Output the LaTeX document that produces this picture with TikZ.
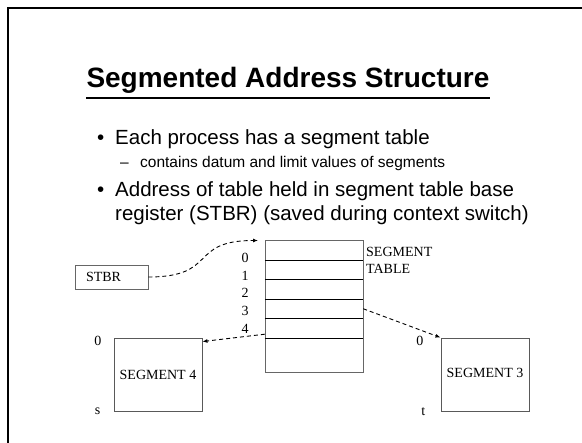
\documentclass[tikz,border=0pt]{standalone}
\usepackage{fontspec}
\setmainfont{Liberation Serif}
\newfontfamily\slidefont{Liberation Sans}
\usetikzlibrary{arrows.meta, positioning, calc}

\begin{document}
\begin{tikzpicture}[
    x=1pt, y=-1pt,
    every node/.style={inner sep=0pt},
    slidetitle/.style={anchor=base, font=\slidefont\bfseries\fontsize{28}{32}\selectfont},
    bullettext/.style={anchor=base west, font=\slidefont\fontsize{20.5}{24}\selectfont},
    subtext/.style={anchor=base west, font=\slidefont\fontsize{15.5}{19}\selectfont},
    diagtext/.style={font=\fontsize{14}{17}\selectfont},
    segbox/.style={rectangle, draw=black!65, line width=0.9pt, minimum width=88pt, minimum height=73pt, diagtext},
    tblrow/.style={rectangle, minimum width=98pt, minimum height=19.5pt},
    rowline/.style={draw=black, line width=1pt},
    dasharrow/.style={-{Latex[length=5pt,width=4pt]}, line width=0.9pt, dash pattern=on 4pt off 3pt}
]
    \useasboundingbox (0,0) rectangle (582,443);

    % slide frame
    \draw[line width=2.2pt] (8,443) -- (8,8) -- (582,8);

    % Title and bullets
    \node[slidetitle] (title) at (288,88) {Segmented Address Structure};
    \draw[line width=1.8pt] ([yshift=-10pt]title.base west) -- ([yshift=-10pt]title.base east);

    \node[bullettext] (b1) at (97,145) {\textbullet};
    \node[bullettext] (l1) at (115,145) {Each process has a segment table};
    \node[subtext] (d1) at (120,168) {\textendash};
    \node[subtext] (l2) at (140,168) {contains datum and limit values of segments};
    \node[bullettext] (b2) at (97,197) {\textbullet};
    \node[bullettext] (l3) at (115,197) {Address of table held in segment table base};
    \node[bullettext] (l4) at (115,221) {register (STBR) (saved during context switch)};

    % Segment table
    \foreach \i in {0,...,4}
        \node[tblrow] (row\i) at (314,250.25+19.5*\i) {};
    \node[tblrow, minimum height=34.5pt, anchor=north] (rowend) at (row4.south) {};
    \node[draw=black!60, line width=0.9pt, minimum width=98pt, minimum height=132pt, anchor=north west] (tbl) at (265,240.5) {};
    \foreach \i in {0,...,4}
        \draw[rowline] (row\i.south west) -- (row\i.south east);
    \foreach \i in {0,...,4}
        \node[diagtext] (idx\i) at (245,258+17.6*\i) {\i};
    \node[diagtext, align=left, anchor=north west] (tblname) at (366,247) {SEGMENT\\TABLE};

    % Register and segments
    \node[rectangle, draw=black!60, line width=0.9pt, minimum height=24pt, text width=51pt, align=left, inner xsep=11pt, diagtext] (stbr) at (111.5,277) {STBR};
    \node[segbox] (seg4) at (158,374.5) {SEGMENT 4};
    \node[segbox] (seg3) at (485,374.5) {\raisebox{4pt}{SEGMENT 3}};

    \node[diagtext, left=12pt of seg4.north west, yshift=-3pt] (s4top) {0};
    \node[diagtext, left=13pt of seg4.south west] (s4end) {s};
    \node[diagtext, left=17pt of seg3.north west, yshift=-3pt] (s3top) {0};
    \node[diagtext, left=15pt of seg3.south west] (s3end) {t};

    % Pointers
    \draw[dasharrow] (stbr.east) .. controls +(70,0) and +(-70,0) .. ([xshift=-7pt]tbl.north west);
    \draw[dasharrow] ([yshift=4pt]row4.south west) -- ([yshift=-4pt]seg4.north east);
    \draw[dasharrow] (row3.east) -- (seg3.north west);
\end{tikzpicture}
\end{document}
